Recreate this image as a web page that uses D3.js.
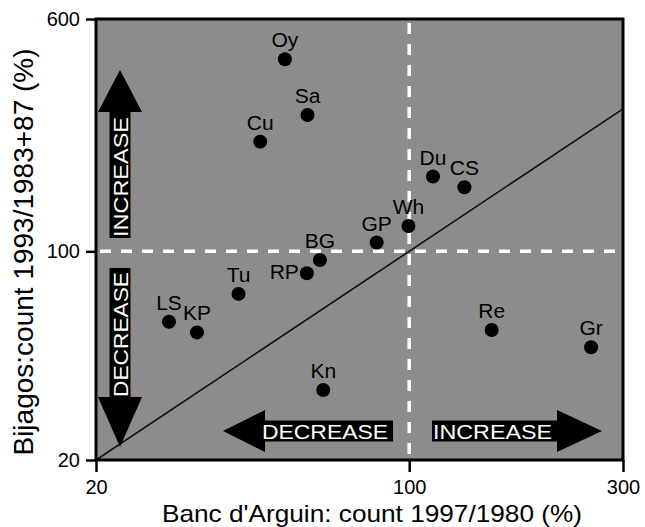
<!DOCTYPE html>
<html><head><meta charset="utf-8">
<script src="https://cdn.jsdelivr.net/npm/d3@7"></script>
<style>
body{margin:0;background:#fff}
svg{display:block;font-family:"Liberation Sans",Arial,Helvetica,sans-serif}
</style>
</head><body>
<svg id="c" width="645" height="527"></svg>
<script>
// ---- data ----
const species = ["Oy","Sa","Cu","Du","CS","Wh","GP","BG","RP","Tu","LS","KP","Kn","Re","Gr"];
const arguinChange = [52.8,59.3,46.5,113,132.8,99.6,84.6,63.2,59.1,41.6,29.1,33.6,64.3,152.8,254.6];
const bijagosChange = [440,286,233,178,164,121.5,107,93.5,84.4,72,58.1,53.5,34.3,54.5,47.7];
const xTicks = [20,100,300];
const yTicks = [20,100,600];
const xTitle = "Banc d'Arguin: count 1997/1980 (%)";
const yTitle = "Bijagos:count 1993/1983+87 (%)";
const leftLabelled = ["RP"];

const points = species.map((s,i)=>({name:s, x:arguinChange[i], y:bijagosChange[i]}));

const svg = d3.select("#c");
const L=96, R=623, T=19, B=460;
const x = d3.scaleLog().domain([20,300]).range([L,R]);
const y = d3.scaleLog().domain([20,600]).range([B,T]);

// background
svg.append("rect").attr("x",L).attr("y",T).attr("width",R-L).attr("height",B-T).attr("fill","#8c8c8c");

// reference lines at 100%
svg.append("line").attr("x1",x(100)).attr("x2",x(100)).attr("y1",T+4).attr("y2",B)
  .attr("stroke","#fff").attr("stroke-width",3.5).attr("stroke-dasharray","11,10");
svg.append("line").attr("x1",L+4).attr("x2",R).attr("y1",y(100)).attr("y2",y(100))
  .attr("stroke","#fff").attr("stroke-width",3.5).attr("stroke-dasharray","11,10");

// 1:1 line
svg.append("line").attr("x1",x(20)).attr("y1",y(20)).attr("x2",x(300)).attr("y2",y(300))
  .attr("stroke","#111").attr("stroke-width",1.6);

// arrows
function arrow(o){
  const g = svg.append("g");
  const P = (a,c)=> o.axis==="x" ? [a,c] : [c,a];
  const a0 = Math.min(o.b0,o.b1), a1 = Math.max(o.b0,o.b1);
  const [rx,ry] = P(a0, o.c-10.5);
  g.append("rect").attr("x",rx).attr("y",ry)
    .attr("width", o.axis==="x" ? a1-a0 : 21)
    .attr("height", o.axis==="x" ? 21 : a1-a0)
    .attr("fill","#000");
  g.append("polygon").attr("points",[P(o.hb,o.c-o.hw),P(o.ap,o.c),P(o.hb,o.c+o.hw)].map(p=>p.join(",")).join(" "))
    .attr("fill","#000");
  const [tx,ty] = P(o.mid,o.c);
  g.append("text")
    .attr("transform", `translate(${tx},${ty})` + (o.axis==="y" ? " rotate(-90)" : ""))
    .attr("text-anchor","middle").attr("dy","0.36em")
    .attr("font-size",21).attr("fill","#fff")
    .attr("textLength",o.tl).attr("lengthAdjust","spacingAndGlyphs")
    .text(o.label);
}
arrow({axis:"y", c:120, b0:112, b1:238, hb:112, ap:70, hw:22, mid:177, tl:120, label:"INCREASE"});
arrow({axis:"y", c:120, b0:268, b1:397, hb:397, ap:447, hw:22, mid:334.5, tl:125, label:"DECREASE"});
arrow({axis:"x", c:431, b0:259, b1:393, hb:265, ap:223, hw:21, mid:325, tl:126, label:"DECREASE"});
arrow({axis:"x", c:431, b0:432, b1:557, hb:557, ap:602, hw:21, mid:492.5, tl:119, label:"INCREASE"});

// points
svg.append("g").selectAll("circle").data(points).join("circle")
  .attr("cx",d=>x(d.x)).attr("cy",d=>y(d.y)).attr("r",7).attr("fill","#000");
svg.append("g").selectAll("text").data(points).join("text")
  .attr("x",d=> leftLabelled.includes(d.name) ? x(d.x)-8 : x(d.x))
  .attr("y",d=> leftLabelled.includes(d.name) ? y(d.y)+6 : y(d.y)-12)
  .attr("text-anchor",d=> leftLabelled.includes(d.name) ? "end" : "middle")
  .attr("font-size",21).attr("fill","#000")
  .text(d=>d.name);

// frame
svg.append("rect").attr("x",L).attr("y",T).attr("width",R-L).attr("height",B-T)
  .attr("fill","none").attr("stroke","#000").attr("stroke-width",3);

// axes
const xa = svg.append("g").attr("transform",`translate(0,${B})`)
  .call(d3.axisBottom(x).tickValues(xTicks).tickFormat(d3.format("d")).tickSize(12).tickPadding(8));
const ya = svg.append("g").attr("transform",`translate(${L},0)`)
  .call(d3.axisLeft(y).tickValues(yTicks).tickFormat(d3.format("d")).tickSize(10).tickPadding(6));
[xa,ya].forEach(a=>{
  a.select(".domain").remove();
  a.selectAll(".tick line").attr("stroke","#000").attr("stroke-width",2.5);
  a.selectAll(".tick text").attr("font-size",20).attr("fill","#000")
    .attr("font-family","'Liberation Sans',Arial,Helvetica,sans-serif");
});

// titles
svg.append("text").attr("x",372).attr("y",521.5).attr("text-anchor","middle")
  .attr("font-size",24).attr("fill","#000")
  .attr("textLength",420).attr("lengthAdjust","spacingAndGlyphs").text(xTitle);
svg.append("text").attr("transform","translate(33,252) rotate(-90)").attr("text-anchor","middle")
  .attr("font-size",28).attr("fill","#000").text(yTitle);
</script>
</body></html>
